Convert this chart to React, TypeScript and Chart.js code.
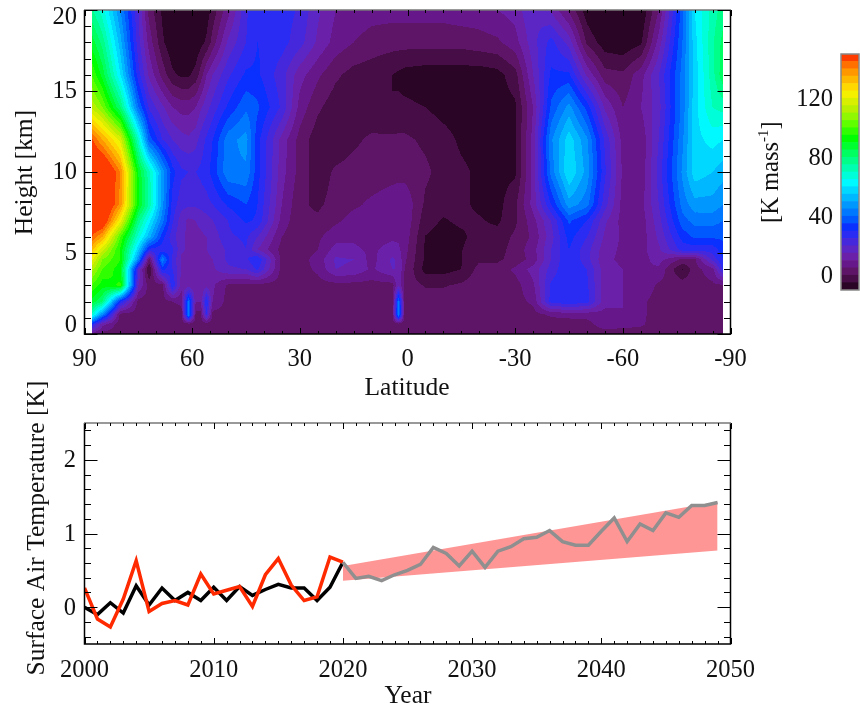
import React, { useEffect, useRef } from "react";
import { Chart, registerables } from "chart.js";

Chart.register(...registerables);

const FONT = '"Liberation Serif", "Times New Roman", serif';
const TICK_PX = 24.5;
const TITLE_PX = 25.5;

// ---- contour panel data ----
const LATITUDES = [
  88, 85, 80, 75, 72, 68.3, 65.5, 63, 61, 59, 57.7, 56, 54.3,
  50, 45, 41.8, 35, 30, 25, 20, 15, 10, 4.2, 2.5, 0.8,
  -5, -10, -15, -20, -25, -30, -35, -40, -45, -50, -55, -60, -65, -70, -76.6, -80, -85, -88,
];
const HEIGHTS = [0, 0.6, 1.2, 2, 3, 4, 4.6, 5.2, 6, 7, 8, 10, 12, 14, 16, 18, 20];

const h00 = [8,3,2,2,2,2,2,2,2,2,2,2,2, 2,2,2,2,2,2,2,2,2,2,2,2, 2,2,2,2,2,2,2,2,2,2,2,2,2,2,2,2,2,2];
const h06 = [30,12,2,2,2,2,2,2,2,2,2,2,2, 2,2,2,2,2,2,2,2,2,2,2,2, 2,2,2,2,2,2,2,2,2,3,8,7,6,2,2,2,2,2];
const h12 = [70,45,3,3,3,3,3,3,45,3,3,25,3, 3,3,3,3,3,3,3,3,3,3,45,3, 3,3,3,3,3,3,3,6,7,7,8,10,6,3,3,3,3,3];
const h20 = [88,80,30,3,3,3,5,6,42,10,10,30,10, 3,3,3,3,3,3,3,3,3,3,42,3, 3,3,3,3,3,3,6,27,29,27,12,10,6,3,3,3,3,3];
const h30 = [100,92,96,15,3,3,30,12,12,11,11,13,11, 4,3,3,3,3,3,3,3,3,3,14,3, -0.5,-0.5,1,3,3,3,9,26,30,26,12,10,9,4,3,3,4,4];
const h40 = [112,100,92,20,-6,32,25,15,13,12,13,14,14, 19,20,26,3,3,6,15,14,9,15,15,5, -7,-7,-5,2,2,6,12,22,30,25,12,10,10,9,-5.5,3,8,27];
const h46 = [122,105,95,45,3,44,24,14,12,12,13,14,15, 21,24,30,3,3,7,16,15,8,16,14,6, -6,-7,-5.2,-1,-1,2,7,20,30,22,11,9,8,12,4,4,22,30];
const h52 = [132,116,94,56,28,27,26,16,14,14,14,15,16, 21,25,15,3,2,5,12,11,9,12,11,7, -6,-7,-5.2,-2,-2,2,8,20,30,22,12,9,8,14,27,27,27,33];
const h60 = [145,135,100,68,52,32,22,16,14,14,14,15,17, 24,26,20,5,1,4,8,9,8,9,9,8, -5.2,-7,-6,-3,-3,1,6,18,32,25,14,9,7,16,32,36,36,36];
const h70 = [155,155,122,78,62,42,26,17,14,15,16,18,20, 25,31,29,8,1,1,4,7,8,7,9,9, -3,-5.5,-4,-4.5,-6,-1,8,20,36,30,16,8,7,18,38,42,42,40];
const h80 = [160,160,138,92,74,47,28,22,21,21,22,23,25, 31,35,30,10,1,-1,2,4,6,8,9,9, -1,-3,-4,-6,-7,-1,12,30,48,42,22,8,8,20,42,48,48,45];
const h100 = [160,160,140,90,72,48,32,26,25,25,26,28,32, 44,44,32,12,3,-3,1,2,2,3,3,3, 1,-2,-4,-6,-7,-6,12,42,60,48,26,9,6,22,46,58,55,52];
const h120 = [146,135,118,70,38,25,20,17,16,18,22,26,30, 43,47,32,13,3,-3,-4,-1,1,1,1,1, -1,-3,-6,-7,-7,-6,12,44,58,46,24,8,6,20,44,58,62,60];
const h140 = [114,105,80,40,24,16,10,8,8,10,14,18,22, 31,39,36,24,8,1,-3,-4,-4,-5,-4,-4, -5,-7,-8,-8,-8,-6,10,36,47,33,14,5,10,18,42,58,70,72];
const h160 = [100,88,60,27,14,3,-4,-6,-6,-3,2,10,15, 24,31,31,22,12,6,1,-2,-3,-5,-6,-7, -8,-8,-8,-8,-7,-2,15,31,31,14,2,1,8,20,42,57,73,84];
const h180 = [88,78,52,22,8,-4,-9,-11,-11,-9,-7,-4,2, 16,25,30,27,22,14,8,5,3,2,2,2, 2,2,2,3,4,8,18,27,18,-1,-8,-9,-6,12,40,58,74,82];
const h200 = [76,67,45,20,3,-6,-12,-14,-14,-13,-10,-8,-3, 8,24,30,28,24,16,10,8,7,7,7,7, 7,7,8,8,10,12,20,14,4,-8,-14,-15,-10,5,38,60,72,78];
const FIELD = [h00,h06,h12,h20,h30,h40,h46,h52,h60,h70,h80,h100,h120,h140,h160,h180,h200];

// ---- colour levels: lower bound of each band and its colour ----
const LEVELS = [-10,-5,0,5,10,15,20,25,30,35,40,45,50,55,60,65,70,75,80,85,90,95,100,105,110,115,120,125,130,135,140,145];
const LEVEL_COLORS = [
  "#2a0525","#470d47","#5e1568","#66188a","#6a20a8","#5c26c4","#4628dc","#2a2cf4",
  "#0a30ff","#0058ff","#0078ff","#0098ff","#00b8ff","#00d8ff","#00f8ff","#00ffd8",
  "#00ffb0","#00ff88","#00ff60","#00ff30","#00ff00","#30ff00","#60ff00","#90f800",
  "#b8f000","#d8f000","#f4f000","#ffd800","#ffb800","#ff9800","#ff7000","#ff3c00",
];
const COLORBAR_TICKS = [0, 40, 80, 120];

// ---- line panel data ----
const YEARS_OBS = [2000,2001,2002,2003,2004,2005,2006,2007,2008,2009,2010,2011,2012,2013,2014,2015,2016,2017,2018,2019,2020];
const BLACK_SERIES = [0,-0.1,0.06,-0.08,0.29,0.03,0.26,0.09,0.2,0.09,0.27,0.09,0.28,0.16,0.24,0.31,0.26,0.26,0.09,0.27,0.61];
const RED_SERIES = [0.26,-0.16,-0.27,0.11,0.63,-0.06,0.05,0.09,0.03,0.45,0.18,0.23,0.28,0.01,0.44,0.66,0.3,0.09,0.14,0.68,0.61];
const YEARS_PROJ = [2020,2021,2022,2023,2024,2025,2026,2027,2028,2029,2030,2031,2032,2033,2034,2035,2036,2037,2038,2039,2040,2041,2042,2043,2044,2045,2046,2047,2048,2049];
const GRAY_SERIES = [0.61,0.39,0.42,0.36,0.44,0.5,0.58,0.81,0.73,0.56,0.76,0.54,0.76,0.82,0.93,0.95,1.04,0.89,0.84,0.84,1.03,1.21,0.89,1.13,1.04,1.28,1.22,1.38,1.38,1.42];
const BAND_YEARS = [2020, 2049];
const BAND_UPPER = [0.56, 1.43];
const BAND_LOWER = [0.36, 0.77];

const pairs = (xs: number[], ys: number[]) => xs.map((x, i) => ({ x, y: ys[i] }));

function range(a: number, b: number, step: number) {
  const out: number[] = [];
  const n = Math.round((b - a) / step);
  for (let i = 0; i <= n; i++) out.push(a + i * step);
  return out;
}

function bracket(arr: number[], v: number, descending: boolean) {
  for (let i = 0; i < arr.length - 1; i++) {
    const a = arr[i], b = arr[i + 1];
    if (descending ? v <= a && v >= b : v >= a && v <= b) return [i, (v - a) / (b - a)];
  }
  return null;
}

function hexRGB(h: string) {
  return [parseInt(h.slice(1, 3), 16), parseInt(h.slice(3, 5), 16), parseInt(h.slice(5, 7), 16)];
}

const contourPlugin = {
  id: "contour",
  beforeDatasetsDraw(chart: any) {
    const { ctx, chartArea: a, scales } = chart;
    const xS = scales.x, yS = scales.y;
    const L = Math.floor(a.left), T = Math.floor(a.top);
    const W = Math.ceil(a.right) - L, H = Math.ceil(a.bottom) - T;
    const img = ctx.createImageData(W, H);
    const rgb = LEVEL_COLORS.map(hexRGB);
    for (let py = 0; py < H; py++) {
      const hv = yS.getValueForPixel(T + py + 0.5);
      const r = bracket(HEIGHTS, hv, false);
      if (!r) continue;
      for (let px = 0; px < W; px++) {
        const lat = xS.getValueForPixel(L + px + 0.5);
        const c = bracket(LATITUDES, lat, true);
        if (!c) continue;
        const [j, ty] = r, [i, tx] = c;
        const v =
          FIELD[j][i] * (1 - tx) * (1 - ty) + FIELD[j][i + 1] * tx * (1 - ty) +
          FIELD[j + 1][i] * (1 - tx) * ty + FIELD[j + 1][i + 1] * tx * ty;
        let k = Math.floor((v + 10) / 5);
        k = Math.max(0, Math.min(LEVELS.length - 1, k));
        const o = (py * W + px) * 4;
        img.data[o] = rgb[k][0]; img.data[o + 1] = rgb[k][1]; img.data[o + 2] = rgb[k][2]; img.data[o + 3] = 255;
      }
    }
    const off = document.createElement("canvas");
    off.width = W; off.height = H;
    off.getContext("2d")!.putImageData(img, 0, 0);
    ctx.save();
    ctx.filter = "blur(0.5px)";
    ctx.drawImage(off, L, T);
    ctx.restore();
  },
};

type AxisDecor = {
  xMajor: number[]; xMinor: number[]; yMajor: number[]; yMinor: number[];
  xMajLen: number; xMinLen: number; yMajLen: number; yMinLen: number;
  xLabels: { v: number; t: string }[];
  yLabels: { v: number; t: string; dy?: number }[];
  xLabelBase: number;
  yLabelRight: number;
  xTitle: { t: string; x: number; y: number };
  yTitle: { t: string; x: number; y: number };
};

function frameLines(ctx: any, a: any) {
  ctx.strokeStyle = "#000";
  ctx.lineWidth = 1.5;
  ctx.beginPath();
  ctx.moveTo(a.left, a.top); ctx.lineTo(a.left, a.bottom); ctx.lineTo(a.right, a.bottom); ctx.lineTo(a.right, a.top);
  ctx.stroke();
  ctx.strokeStyle = "#777";
  ctx.beginPath(); ctx.moveTo(a.left - 0.5, a.top); ctx.lineTo(a.right + 0.5, a.top); ctx.stroke();
}

const decorPlugin = {
  id: "decor",
  afterDraw(chart: any, _args: any, opts: any) {
    const d: AxisDecor = opts.spec;
    const { ctx, chartArea: a, scales } = chart;
    ctx.save();
    frameLines(ctx, a);
    ctx.strokeStyle = "#000";
    ctx.lineWidth = 1;
    const vTick = (v: number, len: number) => {
      const x = Math.round(scales.x.getPixelForValue(v)) + 0.5;
      ctx.beginPath();
      ctx.moveTo(x, a.bottom); ctx.lineTo(x, a.bottom - len);
      ctx.moveTo(x, a.top); ctx.lineTo(x, a.top + len);
      ctx.stroke();
    };
    const hTick = (v: number, len: number) => {
      const y = Math.round(scales.y.getPixelForValue(v)) + 0.5;
      ctx.beginPath();
      ctx.moveTo(a.left, y); ctx.lineTo(a.left + len, y);
      ctx.moveTo(a.right, y); ctx.lineTo(a.right - len, y);
      ctx.stroke();
    };
    d.xMinor.forEach((v) => vTick(v, d.xMinLen));
    d.xMajor.forEach((v) => vTick(v, d.xMajLen));
    d.yMinor.forEach((v) => hTick(v, d.yMinLen));
    d.yMajor.forEach((v) => hTick(v, d.yMajLen));

    ctx.fillStyle = "#111";
    ctx.font = `${TICK_PX}px ${FONT}`;
    ctx.textAlign = "center";
    ctx.textBaseline = "alphabetic";
    d.xLabels.forEach((l) => ctx.fillText(l.t, scales.x.getPixelForValue(l.v), d.xLabelBase));
    ctx.textAlign = "right";
    ctx.textBaseline = "middle";
    d.yLabels.forEach((l) => ctx.fillText(l.t, d.yLabelRight, scales.y.getPixelForValue(l.v) + 1 + (l.dy || 0)));
    ctx.font = `${TITLE_PX}px ${FONT}`;
    ctx.textAlign = "center";
    ctx.textBaseline = "alphabetic";
    ctx.fillText(d.xTitle.t, d.xTitle.x, d.xTitle.y);
    ctx.translate(d.yTitle.x, d.yTitle.y);
    ctx.rotate(-Math.PI / 2);
    ctx.fillText(d.yTitle.t, 0, 0);
    ctx.restore();
  },
};

const colorbarDecor = {
  id: "colorbarDecor",
  afterDraw(chart: any) {
    const { ctx, chartArea: a, scales } = chart;
    ctx.save();
    ctx.strokeStyle = "#888";
    ctx.lineWidth = 1.5;
    ctx.strokeRect(a.left, a.top, a.right - a.left, a.bottom - a.top);
    ctx.fillStyle = "#111";
    ctx.font = `${TICK_PX}px ${FONT}`;
    ctx.textAlign = "right";
    ctx.textBaseline = "middle";
    COLORBAR_TICKS.forEach((v) => ctx.fillText(String(v), 833, scales.y.getPixelForValue(v) + 1));
    ctx.translate(778, 223);
    ctx.rotate(-Math.PI / 2);
    ctx.textAlign = "left";
    ctx.textBaseline = "alphabetic";
    const first = "[K mass";
    ctx.fillText(first, 0, 0);
    let x = ctx.measureText(first).width;
    ctx.font = `15px ${FONT}`;
    ctx.fillText("-1", x, -10);
    x += ctx.measureText("-1").width;
    ctx.font = `${TICK_PX}px ${FONT}`;
    ctx.fillText("]", x, 0);
    ctx.restore();
  },
};

const areaPadding = (l: number, t: number, r: number, b: number) => ({
  left: l, top: t, right: 860 - r, bottom: 710 - b,
});

export default function App() {
  const topRef = useRef<HTMLCanvasElement>(null);
  const barRef = useRef<HTMLCanvasElement>(null);
  const lowRef = useRef<HTMLCanvasElement>(null);

  useEffect(() => {
    document.body.style.margin = "0";
    const base = { responsive: false, animation: false as const, events: [] as any[] };
    const noLegend = { legend: { display: false }, tooltip: { enabled: false } };

    const top = new Chart(topRef.current!, {
      type: "scatter",
      data: { datasets: [{ data: [], pointRadius: 0 }] },
      plugins: [contourPlugin, decorPlugin],
      options: {
        ...base,
        layout: { padding: areaPadding(84.5, 10, 730.5, 334) },
        scales: {
          x: { type: "linear", min: -90, max: 90, reverse: true, display: false },
          y: { type: "linear", min: 0, max: 20, display: false },
        },
        plugins: {
          ...noLegend,
          decor: {
            spec: {
              xMajor: range(-90, 90, 30), xMinor: range(-90, 90, 5),
              yMajor: range(0, 20, 5), yMinor: range(0, 20, 1),
              xMajLen: 6, xMinLen: 3, yMajLen: 13, yMinLen: 6.5,
              xLabels: [90, 60, 30, 0, -30, -60, -90].map((v) => ({ v, t: String(v) })),
              yLabels: [
                { v: 0, t: "0", dy: -9 }, { v: 5, t: "5" }, { v: 10, t: "10" }, { v: 15, t: "15" }, { v: 20, t: "20", dy: 7 },
              ],
              xLabelBase: 366, yLabelRight: 77,
              xTitle: { t: "Latitude", x: 407, y: 395 },
              yTitle: { t: "Height [km]", x: 32, y: 172.5 },
            },
          },
        } as any,
      },
    } as any);

    const bar = new Chart(barRef.current!, {
      type: "bar",
      data: {
        labels: [""],
        datasets: LEVELS.map((lo, i) => ({
          data: [[lo, lo + 5]],
          backgroundColor: LEVEL_COLORS[i],
          barPercentage: 1,
          categoryPercentage: 1,
          grouped: false,
        })),
      } as any,
      plugins: [colorbarDecor],
      options: {
        ...base,
        layout: { padding: areaPadding(841, 54, 859, 290) },
        scales: {
          x: { display: false },
          y: { type: "linear", min: -10, max: 150, display: false },
        },
        plugins: noLegend,
      },
    } as any);

    const low = new Chart(lowRef.current!, {
      type: "line",
      data: {
        datasets: [
          { data: pairs(BAND_YEARS, BAND_UPPER), borderWidth: 0, pointRadius: 0, fill: "+1", backgroundColor: "#ff9696", order: 5 },
          { data: pairs(BAND_YEARS, BAND_LOWER), borderWidth: 0, pointRadius: 0, fill: false, order: 4 },
          { data: pairs(YEARS_OBS, BLACK_SERIES), borderColor: "#000", borderWidth: 3.5, pointRadius: 0, fill: false, borderJoinStyle: "miter", order: 3 },
          { data: pairs(YEARS_OBS, RED_SERIES), borderColor: "#ff2a00", borderWidth: 3.5, pointRadius: 0, fill: false, borderJoinStyle: "miter", order: 2 },
          { data: pairs(YEARS_PROJ, GRAY_SERIES), borderColor: "#8f8f8f", borderWidth: 3.5, pointRadius: 0, fill: false, borderJoinStyle: "miter", order: 1 },
        ],
      },
      plugins: [decorPlugin],
      options: {
        ...base,
        layout: { padding: areaPadding(84.5, 423, 730.5, 644) },
        scales: {
          x: { type: "linear", min: 2000, max: 2050, display: false },
          y: { type: "linear", min: -0.5, max: 2.5, display: false },
        },
        plugins: {
          ...noLegend,
          decor: {
            spec: {
              xMajor: range(2000, 2050, 10), xMinor: range(2000, 2050, 1),
              yMajor: range(0, 2, 1), yMinor: range(-0.4, 2.4, 0.2),
              xMajLen: 6, xMinLen: 3, yMajLen: 13, yMinLen: 6.5,
              xLabels: [2000, 2010, 2020, 2030, 2040, 2050].map((v) => ({ v, t: String(v) })),
              yLabels: [0, 1, 2].map((v) => ({ v, t: String(v) })),
              xLabelBase: 677, yLabelRight: 76,
              xTitle: { t: "Year", x: 408, y: 703 },
              yTitle: { t: "Surface Air Temperature [K]", x: 44, y: 528 },
            },
          },
        } as any,
      },
    } as any);

    return () => { top.destroy(); bar.destroy(); low.destroy(); };
  }, []);

  const style: React.CSSProperties = { position: "absolute", left: 0, top: 0 };
  return (
    <div style={{ position: "relative", width: 860, height: 710, background: "#fff" }}>
      <canvas ref={topRef} width={860} height={710} style={style} />
      <canvas ref={barRef} width={860} height={710} style={style} />
      <canvas ref={lowRef} width={860} height={710} style={style} />
    </div>
  );
}
